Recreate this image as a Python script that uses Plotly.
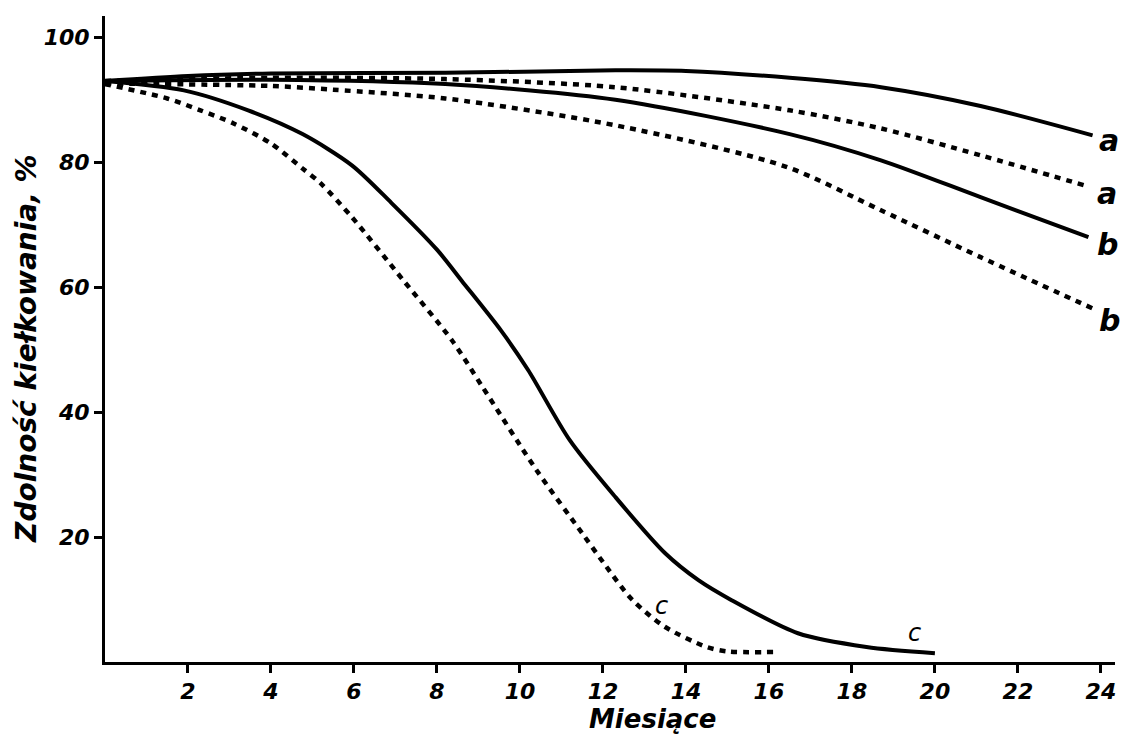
import plotly.graph_objects as go

# Months (x) and germination capacity (%) for each curve
a_solid_x = [0, 2, 4, 8.2, 12.3, 14, 16.5, 18.7, 21.1, 23.8]
a_solid_y = [93, 93.8, 94.2, 94.3, 94.7, 94.6, 93.5, 92.0, 89.0, 84.3]

a_dot_x = [0, 4, 8.2, 12.3, 16.5, 18.7, 21.1, 23.6]
a_dot_y = [93, 93.5, 93.3, 92.0, 88.3, 85.4, 81.1, 76.3]

b_solid_x = [0, 4, 8.2, 12.3, 16.5, 18.7, 21.1, 23.7]
b_solid_y = [93, 93.2, 92.5, 90.0, 84.5, 80.3, 74.4, 68.0]

b_dot_x = [0, 4, 5.5, 8.2, 12.3, 16.4, 18.7, 21.1, 23.8]
b_dot_y = [92.6, 92.2, 91.6, 90.2, 85.9, 79.3, 72.3, 64.8, 56.6]

c_solid_x = [0, 1.9, 3.45, 4.76, 5.95, 6.9, 8.0, 8.6, 9.55, 10.2, 11.2, 12.3,
             13.5, 14.3, 15.1, 16.7, 18.35, 20.0]
c_solid_y = [93, 91.5, 88.3, 84.5, 79.5, 73.5, 66.0, 61.0, 53.0, 46.7, 35.5, 26.4,
             17.4, 13.1, 9.9, 4.6, 2.4, 1.4]

c_dot_x = [0, 1.5, 2.3, 3.1, 4.0, 4.76, 5.2, 5.95, 7.2, 8.36, 9.1, 10.4, 11.5,
           12.0, 12.7, 13.5, 14.5, 15.0, 16.2]
c_dot_y = [92.5, 90.2, 88.3, 86.2, 83.0, 79.0, 76.6, 71.2, 61.0, 51.5, 44.0, 30.7, 20.6,
           16.0, 10.0, 5.6, 2.4, 1.7, 1.6]

x_ticks = [2, 4, 6, 8, 10, 12, 14, 16, 18, 20, 22, 24]
y_ticks = [20, 40, 60, 80, 100]

curve_labels = ["a", "a", "b", "b", "c", "c"]
label_x = [24.2, 24.15, 24.15, 24.2, 13.42, 19.5]
label_y = [83.5, 75.0, 66.8, 54.6, 9.0, 4.6]
label_size = [30, 30, 30, 30, 24, 24]
label_bold = [True, True, True, True, False, False]

FONT = "DejaVu Sans"
series = [
    (a_solid_x, a_solid_y, "solid"),
    (a_dot_x, a_dot_y, "6px,6px"),
    (b_solid_x, b_solid_y, "solid"),
    (b_dot_x, b_dot_y, "6px,6px"),
    (c_solid_x, c_solid_y, "solid"),
    (c_dot_x, c_dot_y, "6px,6px"),
]

fig = go.Figure()
for xs, ys, dash in series:
    fig.add_trace(go.Scatter(
        x=xs, y=ys, mode="lines",
        line=dict(color="black", width=4 if dash == "solid" else 4.5, dash=dash,
                  shape="spline", smoothing=0.8),
        showlegend=False, hoverinfo="skip",
    ))

for t, lx, ly, s, bd in zip(curve_labels, label_x, label_y, label_size, label_bold):
    txt = f"<b><i>{t}</i></b>" if bd else f"<i>{t}</i>"
    fig.add_annotation(x=lx, y=ly, xref="x", yref="y", text=txt,
                       showarrow=False, font=dict(family=FONT, size=s, color="black"),
                       xanchor="center", yanchor="middle")

fig.add_annotation(x=-0.078, y=0.485, xref="paper", yref="paper",
                   text="<b><i>Zdolność kiełkowania, %</i></b>", textangle=-90, showarrow=False,
                   font=dict(family=FONT, size=28, color="black"),
                   xanchor="center", yanchor="middle")
fig.add_annotation(x=0.542, y=-0.088, xref="paper", yref="paper",
                   text="<b><i>Miesiące</i></b>", showarrow=False,
                   font=dict(family=FONT, size=26, color="black"),
                   xanchor="center", yanchor="middle")

axis_common = dict(
    showline=True, linecolor="black", linewidth=3, showgrid=False, zeroline=False,
    ticks="outside", ticklen=8, tickwidth=3, tickcolor="black",
    tickfont=dict(family=FONT, size=22, color="black"),
)
fig.update_xaxes(range=[0, 24.34], tickvals=x_ticks,
                 ticktext=[f"<b><i>{v}</i></b>" for v in x_ticks], **axis_common)
fig.update_yaxes(range=[0, 103.4], tickvals=y_ticks,
                 ticktext=[f"<b><i>{v}</i></b>" for v in y_ticks], **axis_common)

fig.update_layout(
    width=1121, height=737,
    margin=dict(l=105, r=6, t=16, b=75),
    plot_bgcolor="white", paper_bgcolor="white",
)
fig.write_html("out.html")
